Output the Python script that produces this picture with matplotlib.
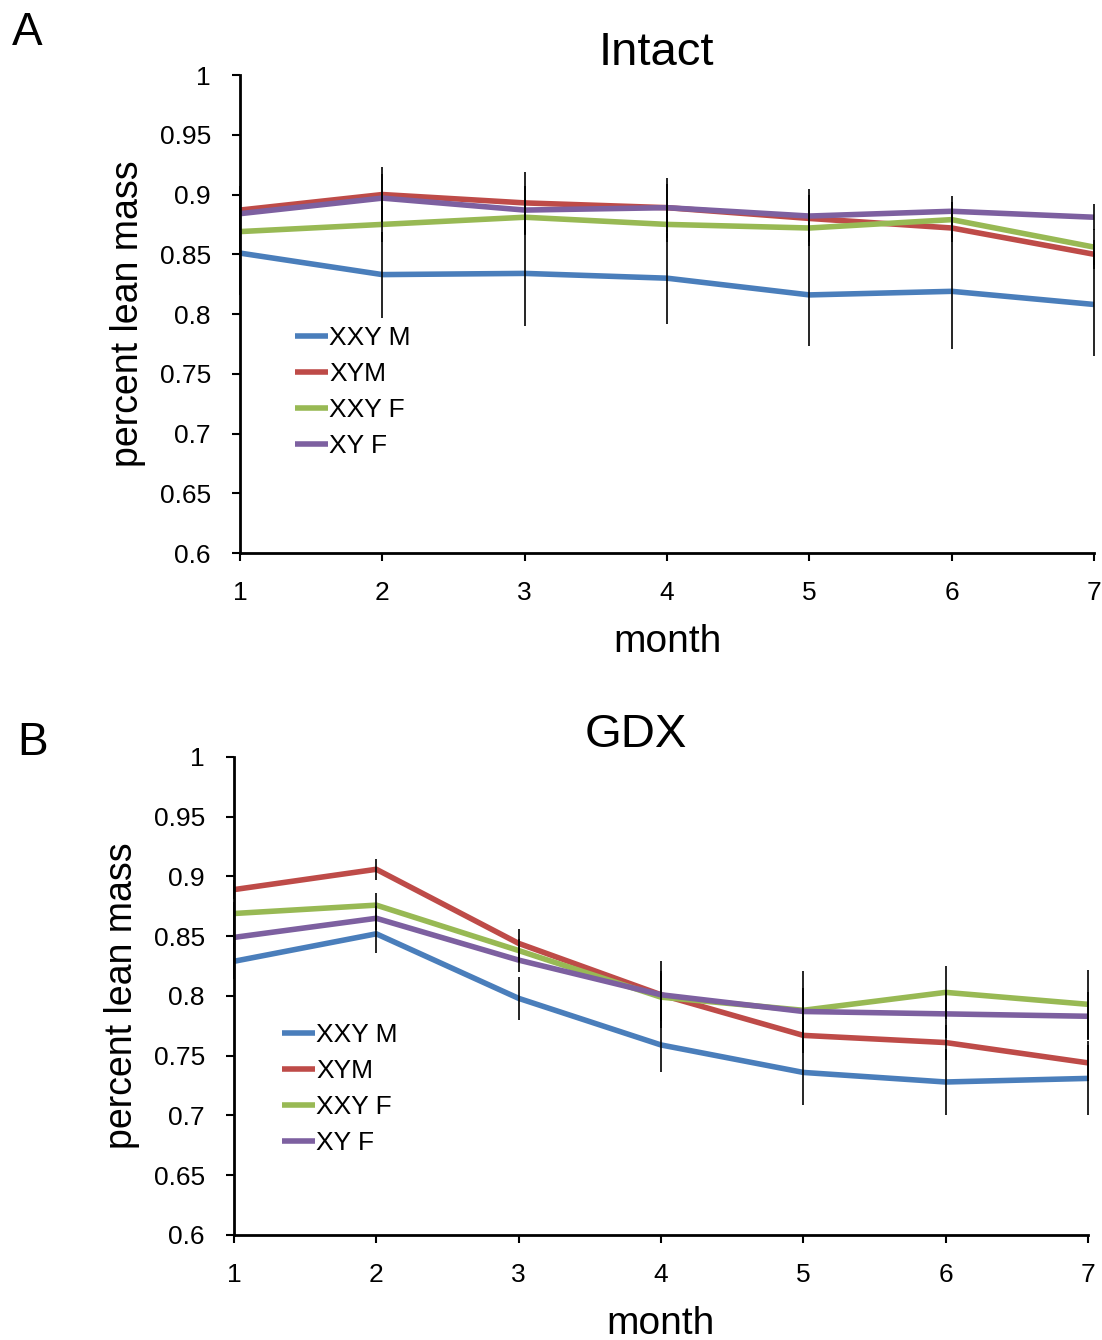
import matplotlib
matplotlib.use("Agg")
import matplotlib.pyplot as plt

plt.rcParams['font.family'] = ['Liberation Sans', 'DejaVu Sans']

months = [1, 2, 3, 4, 5, 6, 7]
series_names = ["XXY M", "XYM", "XXY F", "XY F"]
colors = ["#4A7EBB", "#BE4B48", "#98B954", "#7D60A0"]

# Intact group
intact_xxym = [0.851, 0.833, 0.834, 0.830, 0.816, 0.819, 0.808]
intact_xym = [0.887, 0.900, 0.893, 0.889, 0.880, 0.872, 0.850]
intact_xxyf = [0.869, 0.875, 0.881, 0.875, 0.872, 0.879, 0.856]
intact_xyf = [0.884, 0.897, 0.887, 0.889, 0.882, 0.886, 0.881]
intact_err_xxym = [0.035, 0.036, 0.044, 0.038, 0.043, 0.048, 0.043]
intact_err_xym = [0.020, 0.023, 0.026, 0.025, 0.020, 0.012, 0.012]
intact_err_xxyf = [0.015, 0.015, 0.015, 0.015, 0.015, 0.015, 0.015]
intact_err_xyf = [0.020, 0.020, 0.020, 0.020, 0.023, 0.013, 0.011]

# GDX group
gdx_xxym = [0.829, 0.852, 0.798, 0.759, 0.736, 0.728, 0.731]
gdx_xym = [0.889, 0.906, 0.844, 0.801, 0.767, 0.761, 0.744]
gdx_xxyf = [0.869, 0.876, 0.838, 0.799, 0.788, 0.803, 0.793]
gdx_xyf = [0.849, 0.865, 0.830, 0.801, 0.787, 0.785, 0.783]
gdx_err_xxym = [0.015, 0.016, 0.018, 0.023, 0.027, 0.028, 0.031]
gdx_err_xym = [0.008, 0.009, 0.012, 0.028, 0.015, 0.015, 0.015]
gdx_err_xxyf = [0.010, 0.010, 0.010, 0.020, 0.033, 0.022, 0.029]
gdx_err_xyf = [0.010, 0.010, 0.010, 0.020, 0.020, 0.020, 0.020]

yticks = [0.6, 0.65, 0.7, 0.75, 0.8, 0.85, 0.9, 0.95, 1.0]
ytick_labels = ["0.6", "0.65", "0.7", "0.75", "0.8", "0.85", "0.9", "0.95", "1"]

fig = plt.figure(figsize=(11.02, 13.4), dpi=100)


def draw_panel(ax, title, title_x, values, errors, legend_pos, ylabelpad):
    for vals, errs, name, col in zip(values, errors, series_names, colors):
        ax.plot(months, vals, color=col, lw=4.0, label=name, zorder=2,
                solid_capstyle='butt')
        ax.errorbar(months, vals, yerr=errs, fmt='none', ecolor='black',
                    elinewidth=1.2, capsize=0, zorder=3, clip_on=False)
    ax.set_xlim(1, 7)
    ax.set_ylim(0.6, 1.0)
    ax.set_xticks(months)
    ax.set_yticks(yticks)
    ax.set_yticklabels(ytick_labels)
    ax.tick_params(axis='y', direction='out', length=6, width=1.5,
                   labelsize=19, pad=15)
    ax.tick_params(axis='x', direction='out', length=6, width=1.5,
                   labelsize=19, pad=14)
    ax.spines['top'].set_visible(False)
    ax.spines['right'].set_visible(False)
    for s in ('left', 'bottom'):
        ax.spines[s].set_linewidth(2)
    ax.set_title(title, fontsize=34, x=title_x, pad=4)
    ax.set_xlabel("month", fontsize=28, labelpad=14)
    ax.set_ylabel("percent lean mass", fontsize=27, labelpad=ylabelpad)
    ax.legend(loc='upper left', bbox_to_anchor=legend_pos, frameon=False,
              fontsize=19, handlelength=1.25, handletextpad=0.05,
              labelspacing=0.45, borderpad=0, borderaxespad=0)


ax_a = fig.add_axes([0.2178, 0.5873, 0.775, 0.3567])
draw_panel(ax_a, "Intact", 0.488,
           [intact_xxym, intact_xym, intact_xxyf, intact_xyf],
           [intact_err_xxym, intact_err_xym, intact_err_xxyf, intact_err_xyf],
           (0.064, 0.474), 10)

ax_b = fig.add_axes([0.2123, 0.0784, 0.775, 0.3567])
draw_panel(ax_b, "GDX", 0.47,
           [gdx_xxym, gdx_xym, gdx_xxyf, gdx_xyf],
           [gdx_err_xxym, gdx_err_xym, gdx_err_xxyf, gdx_err_xyf],
           (0.056, 0.443), 10)

fig.text(0.011, 0.992, "A", fontsize=33, va='top', ha='left')
fig.text(0.016, 0.462, "B", fontsize=33, va='top', ha='left')

fig.savefig("out.png", dpi=100)
